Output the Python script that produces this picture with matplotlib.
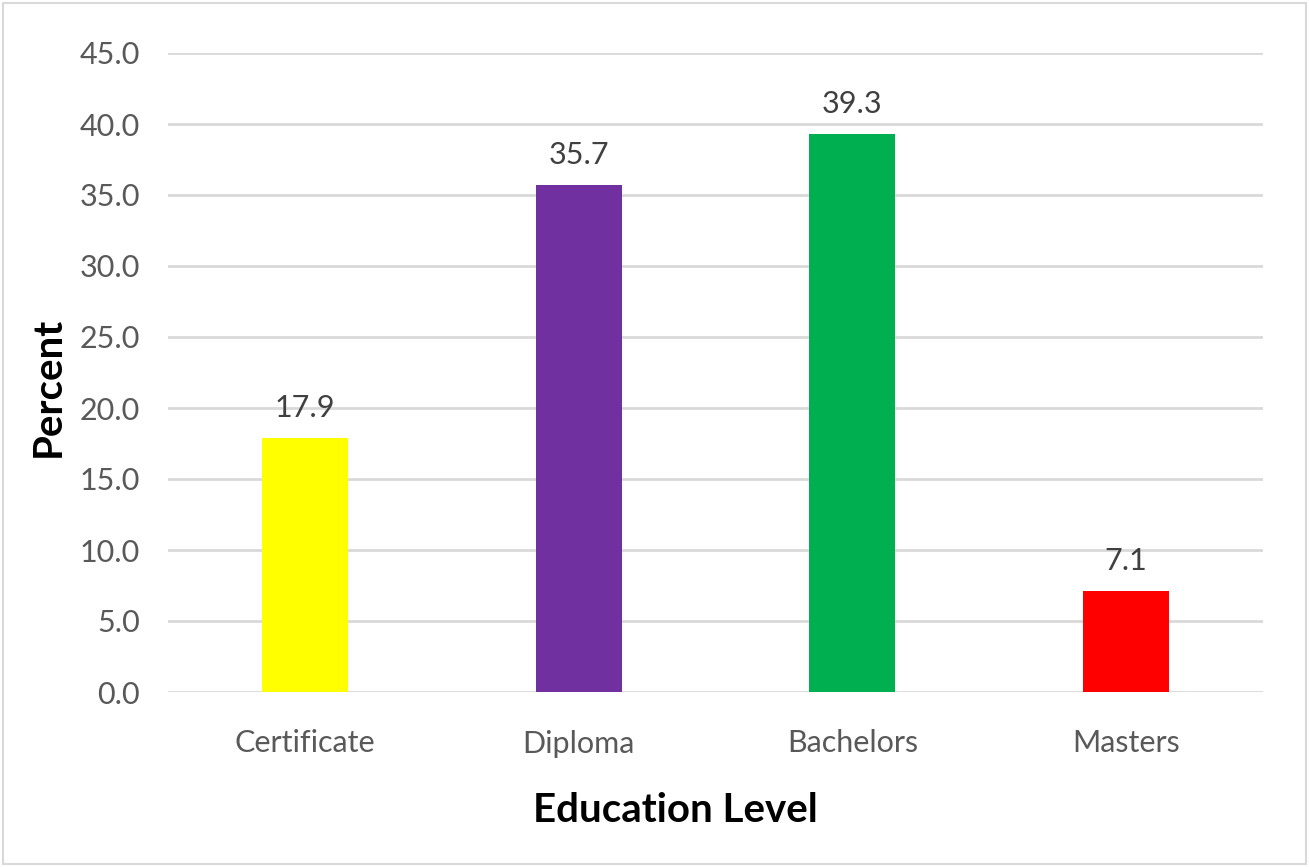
import matplotlib
matplotlib.use("Agg")
import matplotlib.pyplot as plt
from matplotlib.patches import Rectangle

categories = ["Certificate", "Diploma", "Bachelors", "Masters"]
values = [17.9, 35.7, 39.3, 7.1]
colors = ["#FFFF00", "#7030A0", "#00B050", "#FF0000"]
yticks = [0, 5, 10, 15, 20, 25, 30, 35, 40, 45]

plt.rcParams['font.family'] = ['Lato', 'DejaVu Sans']

fig = plt.figure(figsize=(13.09, 8.67), dpi=100)
ax = fig.add_axes([168/1309, 1-692/867, (1263-168)/1309, (692-53)/867])

x = list(range(len(categories)))
bars = ax.bar(x, values, width=0.315, color=colors, zorder=3)
for xi, v in zip(x, values):
    ax.text(xi, v + 1.5, f"{v:.1f}", ha="center", va="baseline", fontsize=22, color="#404040")

ax.set_xlim(-0.5, 3.5)
ax.set_ylim(0, 45)
ax.set_yticks(yticks)
ax.set_yticklabels([f"{t:.1f}" for t in yticks])
ax.set_xticks(x)
ax.set_xticklabels(categories)
ax.tick_params(axis="both", length=0, labelsize=22, labelcolor="#595959")
ax.tick_params(axis="y", pad=20)
ax.tick_params(axis="x", pad=27)
ax.grid(axis="y", color="#D9D9D9", linewidth=2, zorder=0)
for s in ax.spines.values():
    s.set_visible(False)

fig.text(48/1309, 1-387/867, "Percent", rotation=90, ha="center", va="center",
         fontsize=29, fontweight="bold", color="black")
fig.text(675/1309, 1-810/867, "Education Level", ha="center", va="center",
         fontsize=29, fontweight="bold", color="black")

fig.patches.append(Rectangle((3/1309, 3/867), 1-6/1309, 1-6/867, transform=fig.transFigure,
                             fill=False, edgecolor="#D9D9D9", linewidth=1.5))

fig.savefig("out.png", dpi=100)
